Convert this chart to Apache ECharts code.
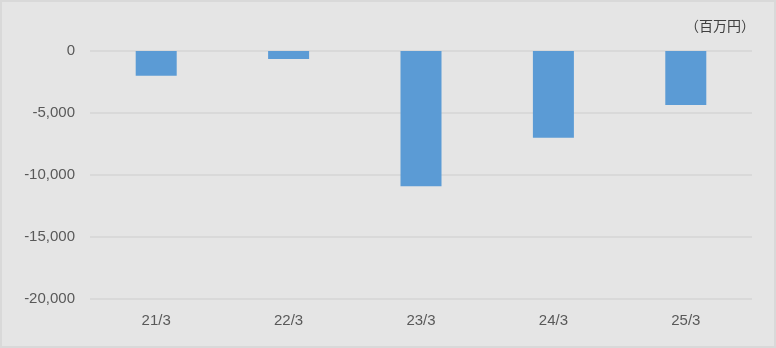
<!DOCTYPE html>
<html>
<head>
<meta charset="utf-8">
<script src="https://cdn.jsdelivr.net/npm/echarts@6/dist/echarts.min.js"></script>
<style>
  html, body { margin: 0; padding: 0; background: #e5e5e5; }
  #chart { width: 776px; height: 348px; }
</style>
</head>
<body>
<div id="chart"></div>
<script>
const categories = ['21/3', '22/3', '23/3', '24/3', '25/3'];
const values = [-2000, -650, -10900, -7000, -4350];
const unitLabel = '（百万円）';

const chart = echarts.init(document.getElementById('chart'), null, { renderer: 'canvas' });
chart.setOption({
  backgroundColor: '#e5e5e5',
  animation: false,
  graphic: [
    { type: 'rect', shape: { x: 1, y: 1, width: 774, height: 346 }, style: { fill: 'none', stroke: '#d9d9d9', lineWidth: 2 }, silent: true },
    { type: 'text', right: 21, top: 19, style: { text: unitLabel, font: '14px "Noto Sans CJK JP", sans-serif', fill: '#404040' } }
  ],
  grid: { left: 90, right: 24, top: 51, bottom: 49 },
  xAxis: {
    type: 'category',
    data: categories,
    position: 'bottom',
    axisLine: { show: false },
    axisTick: { show: false },
    axisLabel: { color: '#595959', fontSize: 15, fontFamily: 'Liberation Sans, sans-serif', margin: 14 }
  },
  yAxis: {
    type: 'value',
    min: -20000,
    max: 0,
    interval: 5000,
    axisLine: { show: false },
    axisTick: { show: false },
    splitLine: { lineStyle: { color: '#d9d9d9', width: 2 } },
    axisLabel: {
      color: '#595959', fontSize: 15, fontFamily: 'Liberation Sans, sans-serif', margin: 15,
      formatter: v => v.toLocaleString('en-US')
    }
  },
  series: [{
    type: 'bar',
    data: values,
    barWidth: 41,
    itemStyle: { color: '#5b9bd5' }
  }]
});
</script>
</body>
</html>
